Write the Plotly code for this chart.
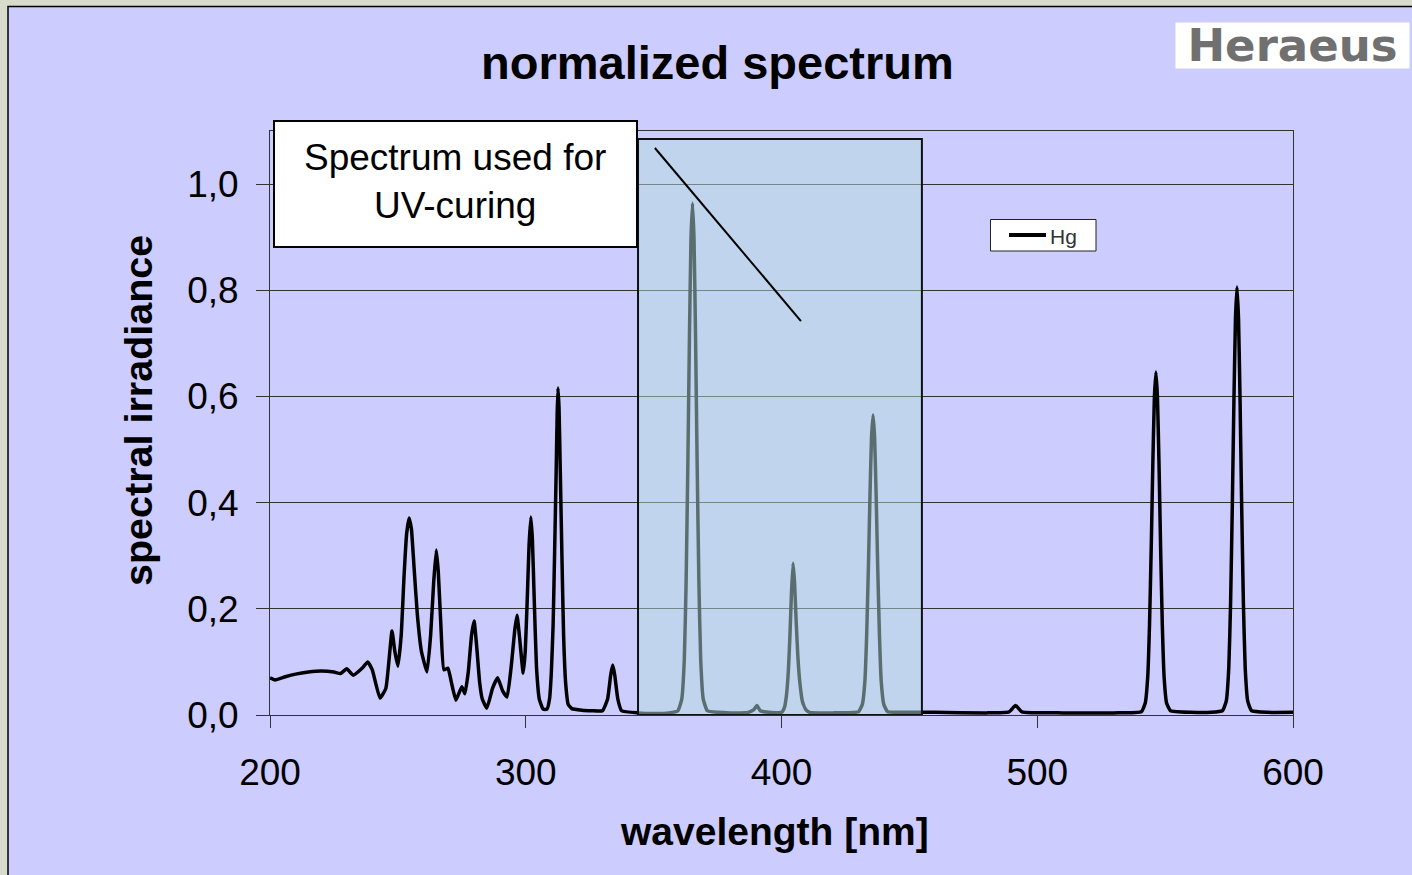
import plotly.graph_objects as go

# ---------------- data ----------------
wavelength_nm = [
    200, 202, 206, 210, 215, 220, 225, 227.5, 230, 232.5, 236, 238.2, 240, 243, 245.3, 247.7, 248.8, 250,
    251.3, 252.4, 253.4, 254.4, 255.3, 256.3, 257.6, 259.2, 261.4, 262.8, 264.0, 265.0, 265.8, 266.8, 268,
    269.6, 271, 272.7, 275, 276.2, 277.5, 278.8, 279.8, 280.8, 282, 283, 284.8, 287, 289, 291, 292.7, 294.5,
    295.7, 296.6, 297.5, 299,
    299.8, 300.6, 301.3, 302, 302.6, 303.3, 304.2, 305.3, 306.8, 308.3,
    309.3, 310.0, 310.7, 311.3, 311.9, 312.3, 312.6, 313.0, 313.5, 314.1, 314.8, 315.6, 316.6, 318,
    322, 326, 330, 332, 333.2, 334, 334.8, 336, 337.5, 344, 350, 356,
    359.5, 361.0, 362.0, 362.7, 363.4, 364.0, 364.6, 365.2, 365.8, 366.4, 367.0, 367.7, 368.4, 369.4, 371.0,
    375, 380, 387, 389.2, 390.4, 391.7, 395,
    400.0, 401.2, 402.0, 402.7, 403.3, 403.9, 404.5, 405.1, 405.7, 406.4, 407.2, 408.2, 409.5, 411,
    420, 430.1, 431.6, 432.6, 433.3, 434.0, 434.6, 435.2, 435.8, 436.4, 437.0, 437.6, 438.3, 439.0, 440.0, 441.5,
    447, 460, 480, 489, 491.5, 494, 510, 530,
    540.7, 542.2, 543.2, 543.9, 544.6, 545.2, 545.8, 546.4, 547.0, 547.6, 548.2, 548.9, 549.6, 550.6, 552.1,
    560, 568,
    572.4, 573.9, 574.9, 575.6, 576.3, 576.9, 577.5, 578.1, 578.7, 579.3, 579.9, 580.6, 581.3, 582.3, 583.8,
    590, 600,
]
irradiance = [
    0.070, 0.066, 0.072, 0.077, 0.081, 0.083, 0.081, 0.078, 0.087, 0.075, 0.088, 0.100, 0.085, 0.032, 0.050, 0.158, 0.120, 0.092,
    0.150, 0.260, 0.340, 0.371, 0.350, 0.280, 0.190, 0.120, 0.081, 0.150, 0.250, 0.311, 0.270, 0.170, 0.085,
    0.088, 0.060, 0.028, 0.053, 0.040, 0.080, 0.150, 0.177, 0.130, 0.060, 0.030, 0.013, 0.050, 0.070, 0.045, 0.034, 0.100,
    0.160, 0.188, 0.150, 0.079,
    0.120, 0.220, 0.320, 0.373, 0.330, 0.220, 0.090, 0.030, 0.011, 0.011,
    0.030, 0.080, 0.170, 0.310, 0.460, 0.570, 0.616, 0.580, 0.460, 0.310, 0.150, 0.060, 0.020, 0.012,
    0.009, 0.008, 0.008, 0.030, 0.075, 0.094, 0.075, 0.030, 0.008, 0.004, 0.003, 0.004,
    0.008, 0.030, 0.105, 0.250, 0.480, 0.710, 0.895, 0.964, 0.895, 0.710, 0.480, 0.250, 0.105, 0.030, 0.008,
    0.005, 0.004, 0.005, 0.010, 0.018, 0.008, 0.005,
    0.005, 0.015, 0.040, 0.085, 0.150, 0.230, 0.286, 0.250, 0.180, 0.110, 0.060, 0.025, 0.010, 0.005,
    0.004, 0.006, 0.020, 0.063, 0.150, 0.283, 0.415, 0.523, 0.565, 0.523, 0.415, 0.283, 0.150, 0.063, 0.020, 0.006,
    0.005, 0.005, 0.004, 0.006, 0.018, 0.006, 0.004, 0.004,
    0.006, 0.022, 0.072, 0.170, 0.323, 0.475, 0.598, 0.646, 0.598, 0.475, 0.323, 0.170, 0.072, 0.022, 0.008,
    0.005, 0.005,
    0.008, 0.026, 0.090, 0.212, 0.403, 0.592, 0.746, 0.806, 0.746, 0.592, 0.403, 0.212, 0.090, 0.026, 0.008,
    0.005, 0.005,
]
assert len(wavelength_nm) == len(irradiance)

series_name = "Hg"
x_ticks = [200, 300, 400, 500, 600]
y_ticks = [0.0, 0.2, 0.4, 0.6, 0.8, 1.0]
uv_band_nm = [343.9, 454.9]
uv_band_top = 1.085
pointer_start = [350.5, 1.068]
pointer_end = [407.6, 0.742]

FONT = "Liberation Sans, Arial, Helvetica, sans-serif"
W, H = 1412, 875
ML, MR, MT, MB = 270, 119, 131, 160
PW, PH = W - ML - MR, H - MT - MB


def px(xpix):
    return (xpix - ML) / PW


def py(ypix):
    return (H - MB - ypix) / PH


fig = go.Figure()
fig.add_trace(go.Scatter(
    x=wavelength_nm, y=irradiance, mode="lines", name=series_name,
    line=dict(color="black", width=3.5, shape="spline", smoothing=0.4),
    showlegend=False,
))

shapes = [
    # lavender chart area with black top/left frame
    dict(type="rect", xref="paper", yref="paper", x0=px(8), x1=px(1430), y0=py(895), y1=py(6.5),
         fillcolor="#ccccff", line=dict(color="black", width=1.5), layer="below"),
    # translucent band over the UV-curing region
    dict(type="rect", xref="x", yref="y", x0=uv_band_nm[0], x1=uv_band_nm[1], y0=0, y1=uv_band_top,
         fillcolor="rgba(180,220,222,0.5)", line=dict(color="#111111", width=2), layer="above"),
    # pointer line
    dict(type="line", xref="x", yref="y", x0=pointer_start[0], y0=pointer_start[1],
         x1=pointer_end[0], y1=pointer_end[1], line=dict(color="black", width=2), layer="above"),
    # text box
    dict(type="rect", xref="paper", yref="paper", x0=px(274), x1=px(637), y0=py(247), y1=py(121),
         fillcolor="white", line=dict(color="black", width=2), layer="above"),
    # legend box
    dict(type="rect", xref="paper", yref="paper", x0=px(990.5), x1=px(1096), y0=py(251), y1=py(219.5),
         fillcolor="white", line=dict(color="#222222", width=1), layer="above"),
    # legend sample line
    dict(type="line", xref="paper", yref="paper", x0=px(1009), x1=px(1046), y0=py(235), y1=py(235),
         line=dict(color="black", width=4), layer="above"),
]

annotations = [
    dict(text="<b>normalized spectrum</b>", xref="paper", yref="paper", x=px(717), y=py(63),
         xanchor="center", yanchor="middle", showarrow=False, font=dict(family=FONT, size=47, color="black")),
    dict(text="<b>wavelength [nm]</b>", xref="paper", yref="paper", x=px(774), y=py(831),
         xanchor="center", yanchor="middle", showarrow=False, font=dict(family=FONT, size=39, color="black")),
    dict(text="<b>spectral irradiance</b>", xref="paper", yref="paper", x=px(138), y=py(411),
         xanchor="center", yanchor="middle", showarrow=False, textangle=-90,
         font=dict(family=FONT, size=39.5, color="black")),
    dict(text="Spectrum used for<br>UV-curing", xref="paper", yref="paper", x=px(455), y=py(182),
         xanchor="center", yanchor="middle", showarrow=False, align="center",
         font=dict(family=FONT, size=37, color="black")),
    dict(text=series_name, xref="paper", yref="paper", x=px(1048), y=py(236),
         xanchor="left", yanchor="middle", showarrow=False,
         font=dict(family=FONT, size=21, color="#333333")),
    dict(text="Heraeus", xref="paper", yref="paper", x=px(1292), y=py(45.5),
         xanchor="center", yanchor="middle", showarrow=False, bgcolor="white",
         width=229, height=41, borderpad=2,
         font=dict(family="DejaVu Sans, sans-serif", size=45, color="#707070", weight="bold")),
]

fig.update_layout(
    width=W, height=H,
    margin=dict(l=ML, r=MR, t=MT, b=MB, pad=0),
    paper_bgcolor="#d8dccc",
    plot_bgcolor="rgba(0,0,0,0)",
    separators=",.",
    font=dict(family=FONT, color="black"),
    shapes=shapes,
    annotations=annotations,
    showlegend=False,
    xaxis=dict(
        range=[200, 600], tickvals=x_ticks, ticktext=[str(v) for v in x_ticks],
        showgrid=False, zeroline=False,
        showline=True, linecolor="#333333", linewidth=1, mirror=True,
        ticks="outside", ticklen=12, tickcolor="#333333", tickwidth=1,
        tickfont=dict(family=FONT, size=37, color="black"), ticklabelstandoff=13,
    ),
    yaxis=dict(
        range=[0, 1.1], tickvals=y_ticks, tickformat=".1f",
        showgrid=True, gridcolor="#333333", gridwidth=1, zeroline=False,
        showline=True, linecolor="#333333", linewidth=1, mirror=True,
        ticks="outside", ticklen=13, tickcolor="#333333", tickwidth=1,
        tickfont=dict(family=FONT, size=37, color="black"), ticklabelstandoff=10,
    ),
)

fig.write_html("out.html", config={"displayModeBar": False},
               post_script="document.body.style.margin='0';")
